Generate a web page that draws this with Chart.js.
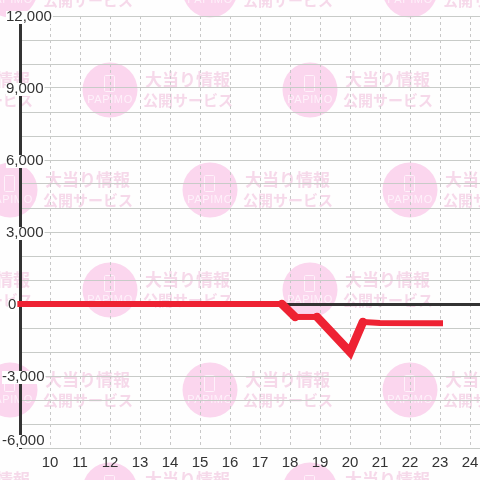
<!DOCTYPE html>
<html>
<head>
<meta charset="utf-8">
<title>Chart</title>
<script src="https://cdn.jsdelivr.net/npm/chart.js"></script>
<style>
  html, body { margin: 0; padding: 0; background: #fff; }
  canvas { display: block; }
</style>
</head>
<body>
<canvas id="dataChart" width="480" height="480"></canvas>
<script>
// values
const games = [9, 17.73, 18.17, 18.9, 20, 20.43, 21, 23];
const balance = [0, 0, -540, -540, -2000, -750, -790, -800];
const xTickLabels = ['10', '11', '12', '13', '14', '15', '16', '17', '18', '19', '20', '21', '22', '23', '24'];
const yTickValues = [12000, 9000, 6000, 3000, 0, -3000, -6000];
const yTickLabels = ['12,000', '9,000', '6,000', '3,000', '0', '-3,000', '-6,000'];
const watermarkTitle = '大当り情報';
const watermarkSub = '公開サービス';
const watermarkLogo = 'PAPIMO';

const FONT = '"Liberation Sans", Arial, sans-serif';

function drawStamp(ctx, cx, cy) {
  ctx.fillStyle = '#fbd6ee';
  ctx.beginPath();
  ctx.arc(cx, cy, 27.5, 0, Math.PI * 2);
  ctx.fill();

  // phone outline inside the circle
  ctx.strokeStyle = '#fef1fa';
  ctx.lineWidth = 1;
  ctx.beginPath();
  ctx.roundRect(cx - 5.5, cy - 14.5, 10, 16, 1);
  ctx.stroke();

  ctx.fillStyle = '#fef1fa';
  ctx.font = '11px "Liberation Sans Narrow", ' + FONT;
  ctx.letterSpacing = '0.6px';
  ctx.textAlign = 'center';
  ctx.textBaseline = 'middle';
  ctx.fillText(watermarkLogo, cx, cy + 10);
  ctx.letterSpacing = '0px';

  ctx.fillStyle = '#f6d9ea';
  ctx.textAlign = 'left';
  ctx.font = 'bold 17px "Noto Sans CJK JP"';
  ctx.fillText(watermarkTitle, cx + 35, cy - 10);
  ctx.font = 'bold 15px "Noto Sans CJK JP"';
  ctx.fillText(watermarkSub, cx + 33, cy + 10);
}

const watermarkPlugin = {
  id: 'watermark',
  beforeDraw(chart) {
    const ctx = chart.ctx;
    ctx.save();
    ctx.fillStyle = '#fefefe';
    ctx.fillRect(0, 0, chart.width, chart.height);
    for (let row = -1; row < 3; row++) {
      for (let col = -1; col < 3; col++) {
        drawStamp(ctx, 110 + col * 200, 90 + row * 200);
        drawStamp(ctx, 10 + col * 200, 190 + row * 200);
      }
    }
    ctx.restore();
  },
};

// y labels sit on top of the axis with a white box behind them
const yLabelPlugin = {
  id: 'yLabels',
  afterDatasetsDraw(chart) {
    const ctx = chart.ctx;
    const yScale = chart.scales.y;
    ctx.save();
    ctx.font = '15px ' + FONT;
    ctx.textAlign = 'left';
    ctx.textBaseline = 'middle';
    yTickValues.forEach((value, i) => {
      const label = yTickLabels[i];
      // bottom label is pushed up so it stays above the last grid line
      const y = yScale.getPixelForValue(value) - (value === yScale.min ? 8 : 0);
      const w = ctx.measureText(label).width;
      let left = 6;
      if (value < 0) left = 2;
      if (value === 0) left = 8;
      ctx.fillStyle = '#fff';
      ctx.fillRect(left, y - 5, w + 1, 13);
      ctx.fillStyle = '#333';
      ctx.fillText(label, left, y + 1);
    });
    ctx.restore();
  },
};

const isSteep = (c) => Math.abs(c.p0.parsed.y - c.p1.parsed.y) > 100;

new Chart(document.getElementById('dataChart').getContext('2d'), {
  type: 'line',
  data: {
    datasets: [{
      data: games.map((g, i) => ({ x: g, y: balance[i] })),
      borderColor: '#ee2233',
      borderWidth: 6,
      borderCapStyle: 'square',
      borderJoinStyle: 'miter',
      pointRadius: 0,
      tension: 0,
      clip: false,
      segment: {
        borderWidth: (c) => (isSteep(c) ? 8.5 : 6),
        borderCapStyle: (c) => (isSteep(c) ? 'round' : 'square'),
      },
    }],
  },
  options: {
    responsive: false,
    animation: false,
    layout: { padding: { left: 20, top: 16, right: 0, bottom: 0 }, autoPadding: false },
    plugins: { legend: { display: false }, tooltip: { enabled: false } },
    scales: {
      x: {
        type: 'linear',
        min: 9,
        max: 24.3333,
        afterFit(scale) {
          scale.height = 32;
          scale.paddingLeft = 0;
          scale.paddingRight = 0;
        },
        border: { display: false, dash: [3, 3] },
        grid: {
          color: (c) => (c.tick && c.tick.value === 9 ? 'transparent' : '#c8c8c8'),
          lineWidth: 1,
          drawTicks: false,
        },
        ticks: {
          stepSize: 1,
          includeBounds: false,
          maxRotation: 0,
          autoSkip: false,
          padding: 6,
          color: '#333',
          font: { family: FONT, size: 15 },
          callback: (v) => (xTickLabels.includes(String(v)) ? String(v) : ''),
        },
      },
      y: {
        min: -6000,
        max: 12000,
        afterFit(scale) {
          scale.width = 0;
          scale.paddingTop = 0;
          scale.paddingBottom = 0;
        },
        border: { display: true, color: '#333', width: 3 },
        grid: {
          color: (c) => (c.tick && c.tick.value === 0 ? '#333' : '#c8cbc8'),
          lineWidth: (c) => (c.tick && c.tick.value === 0 ? 3 : 1),
          drawTicks: false,
        },
        ticks: { stepSize: 1000, display: false },
      },
    },
  },
  plugins: [watermarkPlugin, yLabelPlugin],
});
</script>
</body>
</html>
